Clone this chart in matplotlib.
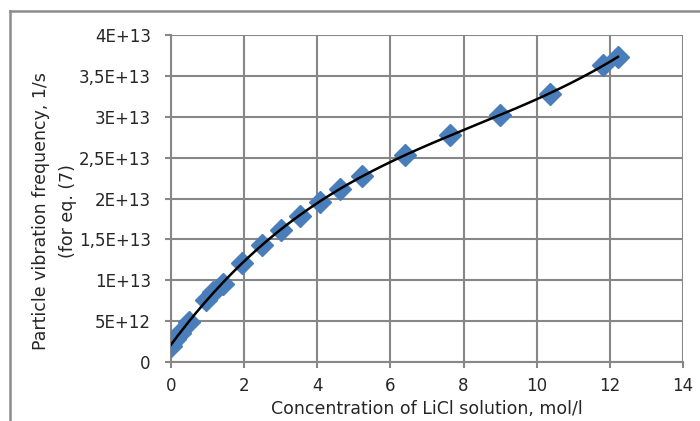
import numpy as np
import matplotlib.pyplot as plt
from matplotlib.lines import Line2D

# concentration, mol/l  vs  particle vibration frequency, 1/s
conc = [0.0, 0.1, 0.25, 0.5, 0.97, 1.15, 1.43, 1.93, 2.48, 3.0, 3.52,
        4.07, 4.62, 5.21, 6.39, 7.62, 9.0, 10.36, 11.81, 12.22]
freq = [2.0e12, 2.8e12, 3.6e12, 4.9e12, 7.6e12, 8.6e12, 9.6e12, 12.1e12,
        14.3e12, 16.2e12, 17.8e12, 19.6e12, 21.2e12, 22.7e12, 25.3e12,
        27.75e12, 30.2e12, 32.8e12, 36.3e12, 37.3e12]

yticks = [0, 5e12, 1e13, 1.5e13, 2e13, 2.5e13, 3e13, 3.5e13, 4e13]
ylabels = ["0", "5E+12", "1E+13", "1,5E+13", "2E+13", "2,5E+13",
           "3E+13", "3,5E+13", "4E+13"]
xticks = [0, 2, 4, 6, 8, 10, 12, 14]

plt.rcParams['font.family'] = ['DejaVu Sans']
grid_c = "#878787"
text_c = "#262626"

fig = plt.figure(figsize=(7, 4.21), dpi=100)
ax = fig.add_axes([171/700, 1-362/421, (683-171)/700, (362-35)/421])

ax.plot(conc, freq, "D", color="#4a7ebb", ms=11, mec="#4a7ebb", zorder=3)

# polynomial trendline through the data, like the spreadsheet's
coef = np.polyfit(conc, freq, 4)
xs = np.linspace(min(conc), max(conc), 200)
ax.plot(xs, np.polyval(coef, xs), "-", color="black", lw=1.8, zorder=4)

ax.set_xlim(0, 14)
ax.set_ylim(0, 4e13)
ax.set_xticks(xticks)
ax.set_yticks(yticks)
ax.set_yticklabels(ylabels)
ax.grid(True, color=grid_c, lw=1.5)
ax.set_axisbelow(True)

for s in ["top", "right"]:
    ax.spines[s].set_visible(False)
for s in ["left", "bottom"]:
    ax.spines[s].set_color(grid_c)
    ax.spines[s].set_linewidth(1.5)
ax.tick_params(direction="out", length=4.5, width=1.5, color=grid_c,
               labelsize=12, labelcolor=text_c, pad=9)
ax.tick_params(axis="y", pad=10)
ax.tick_params(axis="x", pad=6)

ax.set_xlabel("Concentration of LiCl solution, mol/l", fontsize=12.5,
              color=text_c, labelpad=4)
ax.set_ylabel("Particle vibration frequency, 1/s\n(for eq. (7)", fontsize=12.5,
              color=text_c, linespacing=1.6)
ax.yaxis.set_label_coords(-0.184, 0.462)

# outer chart frame
fig.add_artist(Line2D([10/700, 1.0], [1-11/421, 1-11/421],
                      transform=fig.transFigure, color="#8c8c8c", lw=1.8))
fig.add_artist(Line2D([10/700, 10/700], [0, 1-11/421],
                      transform=fig.transFigure, color="#8c8c8c", lw=1.8))

fig.savefig("out.png", dpi=100)
